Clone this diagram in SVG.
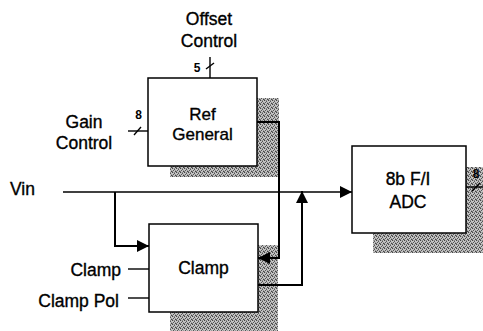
<svg xmlns="http://www.w3.org/2000/svg" width="483" height="331" viewBox="0 0 483 331">
<defs>
<pattern id="dith" width="4" height="4" patternUnits="userSpaceOnUse">
<rect width="4" height="4" fill="#c4c4c4"/>
<rect x="0" y="0" width="1" height="1" fill="#444"/>
<rect x="2" y="0" width="1" height="1" fill="#888"/>
<rect x="2" y="1" width="1" height="1" fill="#555"/>
<rect x="1" y="2" width="1" height="1" fill="#555"/>
<rect x="3" y="2" width="1" height="1" fill="#999"/>
<rect x="3" y="3" width="1" height="1" fill="#444"/>
<rect x="0" y="3" width="1" height="1" fill="#777"/>
<rect x="1" y="0" width="1" height="1" fill="#aaa"/>
</pattern>
<marker id="arr" viewBox="0 0 12 12" refX="12" refY="6" markerWidth="12" markerHeight="12" markerUnits="userSpaceOnUse" orient="auto">
<path d="M0,0 L12,6 L0,12 Z" fill="#000"/>
</marker>
</defs>
<style>
.box{fill:#fff;stroke:#000;stroke-width:1.5}
.sh{fill:url(#dith);stroke:none}
.t{font-family:"Liberation Sans",Arial,sans-serif;font-size:17.5px;fill:#000;stroke:#000;stroke-width:0.35}
.n{font-family:"Liberation Sans",Arial,sans-serif;font-size:12px;font-weight:bold;fill:#000}
.w{fill:none;stroke:#000;stroke-width:2}
.thin{fill:none;stroke:#000;stroke-width:1.4}
</style>
<g id="shadows">
<rect class="sh" x="170" y="98" width="109" height="79"/>
<rect class="sh" x="170" y="245" width="108" height="86"/>
<rect class="sh" x="373" y="167" width="110" height="86"/>
</g>
<g id="ref-general">
<rect class="box" x="148" y="78" width="109" height="88"/>
<text class="t" x="202.5" y="119.5" text-anchor="middle" style="font-size:17px">Ref</text>
<text class="t" x="202.5" y="140" text-anchor="middle" style="font-size:17px">General</text>
</g>
<g id="clamp">
<rect class="box" x="149" y="224" width="109" height="88"/>
<text class="t" x="203.5" y="274" text-anchor="middle">Clamp</text>
</g>
<g id="adc">
<rect class="box" x="352" y="146" width="114" height="87"/>
<text class="t" x="408" y="185" text-anchor="middle">8b F/I</text>
<text class="t" x="408" y="208" text-anchor="middle">ADC</text>
</g>
<g id="labels">
<text class="t" x="209" y="25" text-anchor="middle">Offset</text>
<text class="t" x="209" y="46.5" text-anchor="middle">Control</text>
<text class="t" x="84" y="128" text-anchor="middle">Gain</text>
<text class="t" x="84" y="149" text-anchor="middle">Control</text>
<text class="t" x="10" y="195">Vin</text>
<text class="t" x="121" y="276" text-anchor="end">Clamp</text>
<text class="t" x="119" y="307" text-anchor="end">Clamp Pol</text>
<text class="n" x="197" y="72" text-anchor="middle">5</text>
<text class="n" x="138.5" y="119" text-anchor="middle">8</text>
<text class="n" x="476" y="178" text-anchor="middle">8</text>
</g>
<g id="connectors">
<path class="thin" d="M210,57 V78"/>
<path class="thin" d="M206,69 L214,63"/>
<path class="thin" d="M128,131 H148"/>
<path class="thin" d="M134,135 L141,127"/>
<path class="thin" d="M466,187 H483"/>
<path class="thin" d="M472,191 L480,183"/>
<path class="thin" d="M63,192 H352" marker-end="url(#arr)"/>
<path class="w" d="M115,192 V246 H149" marker-end="url(#arr)"/>
<path class="thin" d="M128,269 H149"/>
<path class="thin" d="M128,298 H149"/>
<path class="w" d="M257,122 H279 V258 H258" marker-end="url(#arr)"/>
<path class="w" d="M258,285 H302 V191" marker-end="url(#arr)"/>
</g>
</svg>
